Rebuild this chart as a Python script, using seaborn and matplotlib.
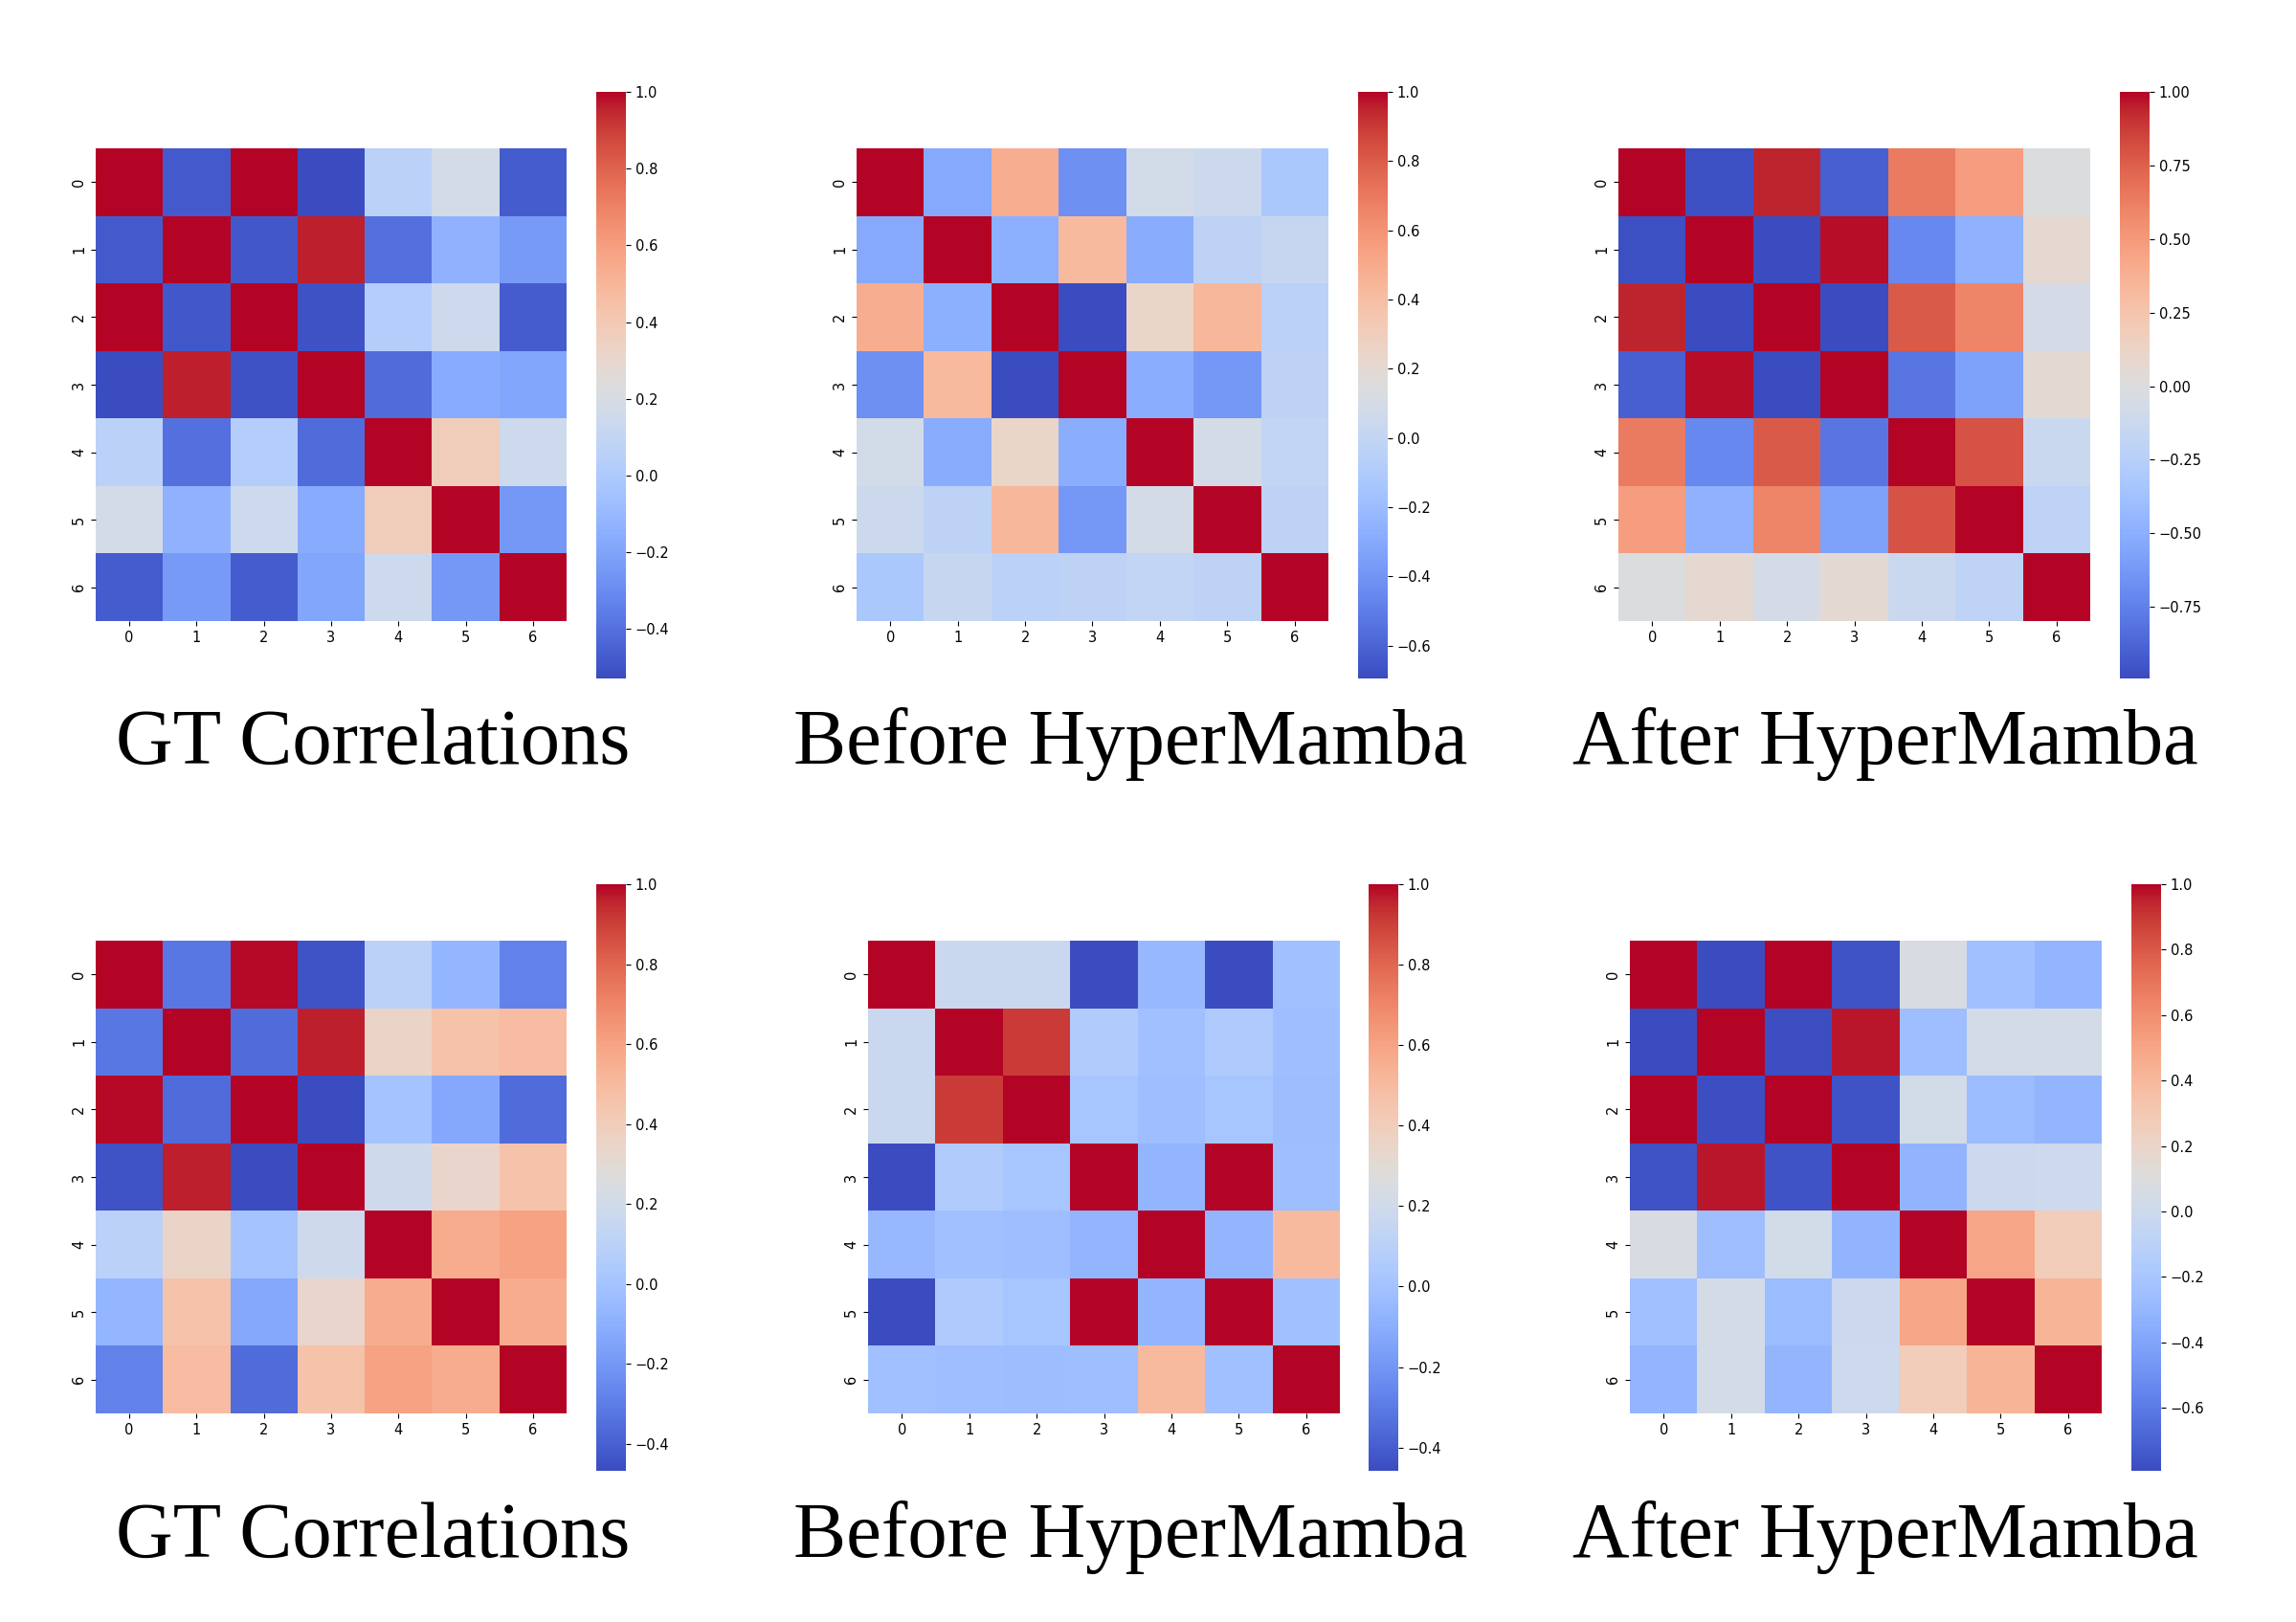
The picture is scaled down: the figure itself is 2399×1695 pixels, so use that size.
import matplotlib
matplotlib.use('Agg')
import matplotlib.pyplot as plt
import numpy as np
import seaborn as sns

W = 2399
H = 1695

titles = ['GT Correlations', 'Before HyperMamba', 'After HyperMamba'] * 2
labels = [0, 1, 2, 3, 4, 5, 6]

# correlation matrices
gt_top = [
    [1.00, -0.48, 1.00, -0.53, 0.06, 0.18, -0.47],
    [-0.48, 1.00, -0.49, 0.96, -0.40, -0.13, -0.24],
    [1.00, -0.49, 1.00, -0.51, 0.03, 0.15, -0.47],
    [-0.53, 0.96, -0.51, 1.00, -0.42, -0.17, -0.19],
    [0.06, -0.40, 0.03, -0.42, 1.00, 0.37, 0.15],
    [0.18, -0.13, 0.15, -0.17, 0.37, 1.00, -0.25],
    [-0.47, -0.24, -0.47, -0.19, 0.15, -0.25, 1.00],
]
before_top = [
    [1.00, -0.30, 0.49, -0.42, 0.085, 0.05, -0.12],
    [-0.30, 1.00, -0.27, 0.42, -0.29, -0.03, 0.02],
    [0.49, -0.27, 1.00, -0.695, 0.24, 0.44, -0.04],
    [-0.42, 0.42, -0.695, 1.00, -0.28, -0.39, -0.03],
    [0.085, -0.29, 0.24, -0.28, 1.00, 0.09, 0.00],
    [0.05, -0.03, 0.44, -0.39, 0.09, 1.00, -0.03],
    [-0.12, 0.02, -0.04, -0.03, 0.00, -0.03, 1.00],
]
after_top = [
    [1.00, -0.97, 0.94, -0.90, 0.64, 0.48, -0.01],
    [-0.97, 1.00, -0.99, 0.98, -0.71, -0.48, 0.07],
    [0.94, -0.99, 1.00, -0.99, 0.77, 0.60, -0.06],
    [-0.90, 0.98, -0.99, 1.00, -0.80, -0.58, 0.06],
    [0.64, -0.71, 0.77, -0.80, 1.00, 0.80, -0.13],
    [0.48, -0.48, 0.60, -0.58, 0.80, 1.00, -0.20],
    [-0.01, 0.07, -0.06, 0.06, -0.13, -0.20, 1.00],
]
gt_bottom = [
    [1.00, -0.32, 0.99, -0.44, 0.10, -0.07, -0.28],
    [-0.32, 1.00, -0.36, 0.96, 0.35, 0.46, 0.49],
    [0.99, -0.36, 1.00, -0.467, 0.00, -0.13, -0.36],
    [-0.44, 0.96, -0.467, 1.00, 0.19, 0.34, 0.46],
    [0.10, 0.35, 0.00, 0.19, 1.00, 0.56, 0.60],
    [-0.07, 0.46, -0.13, 0.34, 0.56, 1.00, 0.56],
    [-0.28, 0.49, -0.36, 0.46, 0.60, 0.56, 1.00],
]
before_bottom = [
    [1.00, 0.17, 0.17, -0.458, -0.05, -0.458, -0.01],
    [0.17, 1.00, 0.91, 0.06, -0.01, 0.05, -0.02],
    [0.17, 0.91, 1.00, 0.02, -0.02, 0.015, -0.03],
    [-0.458, 0.06, 0.02, 1.00, -0.07, 1.00, -0.02],
    [-0.05, -0.01, -0.02, -0.07, 1.00, -0.07, 0.50],
    [-0.458, 0.05, 0.015, 1.00, -0.07, 1.00, -0.01],
    [-0.01, -0.02, -0.03, -0.02, 0.50, -0.01, 1.00],
]
after_bottom = [
    [1.00, -0.793, 1.00, -0.76, 0.07, -0.24, -0.31],
    [-0.793, 1.00, -0.78, 0.97, -0.26, 0.04, 0.04],
    [1.00, -0.78, 1.00, -0.76, 0.03, -0.27, -0.31],
    [-0.76, 0.97, -0.76, 1.00, -0.32, -0.01, 0.00],
    [0.07, -0.26, 0.03, -0.32, 1.00, 0.50, 0.27],
    [-0.24, 0.04, -0.27, -0.01, 0.50, 1.00, 0.42],
    [-0.31, 0.04, -0.31, 0.00, 0.27, 0.42, 1.00],
]
matrices = [gt_top, before_top, after_top, gt_bottom, before_bottom, after_bottom]

vmins = [-0.529, -0.695, -0.993, -0.467, -0.458, -0.793]
cbar_ticks = [
    [-0.4, -0.2, 0.0, 0.2, 0.4, 0.6, 0.8, 1.0],
    [-0.6, -0.4, -0.2, 0.0, 0.2, 0.4, 0.6, 0.8, 1.0],
    [-0.75, -0.5, -0.25, 0.0, 0.25, 0.5, 0.75, 1.0],
    [-0.4, -0.2, 0.0, 0.2, 0.4, 0.6, 0.8, 1.0],
    [-0.4, -0.2, 0.0, 0.2, 0.4, 0.6, 0.8, 1.0],
    [-0.6, -0.4, -0.2, 0.0, 0.2, 0.4, 0.6, 0.8, 1.0],
]

# pixel layout: heatmap left/right, colorbar left/right
heat_x = [(100, 592), (895, 1388), (1691, 2184), (100, 592), (907, 1400), (1703, 2196)]
cbar_x = [(623, 654), (1419, 1450), (2215, 2246), (623, 654), (1430, 1461), (2227, 2258)]
heat_y = [(155, 649)] * 3 + [(983, 1477)] * 3
cbar_y = [(96, 709)] * 3 + [(924, 1537)] * 3
title_x = [390, 1181, 1970, 390, 1181, 1970]
title_y = [798] * 3 + [1627] * 3


def box(xs, ys):
    return [xs[0] / W, 1 - ys[1] / H, (xs[1] - xs[0]) / W, (ys[1] - ys[0]) / H]


fig = plt.figure(figsize=(W / 100, H / 100), dpi=100)

for i in range(6):
    ax = fig.add_axes(box(heat_x[i], heat_y[i]))
    cax = fig.add_axes(box(cbar_x[i], cbar_y[i]))
    sns.heatmap(np.array(matrices[i]), cmap='coolwarm', vmin=vmins[i], vmax=1.0,
                ax=ax, cbar_ax=cax, xticklabels=labels, yticklabels=labels,
                cbar_kws={'ticks': cbar_ticks[i]})
    ax.tick_params(labelsize=10.5)
    ax.tick_params(axis='y', labelrotation=90)
    cax.tick_params(labelsize=10.5)
    for t in ax.get_yticklabels():
        t.set_va('center')
    fig.text(title_x[i] / W, 1 - title_y[i] / H, titles[i], ha='center', va='baseline',
             family='Liberation Serif', fontsize=59.5, color='black')

fig.savefig('out.png', dpi=100, facecolor='white')
